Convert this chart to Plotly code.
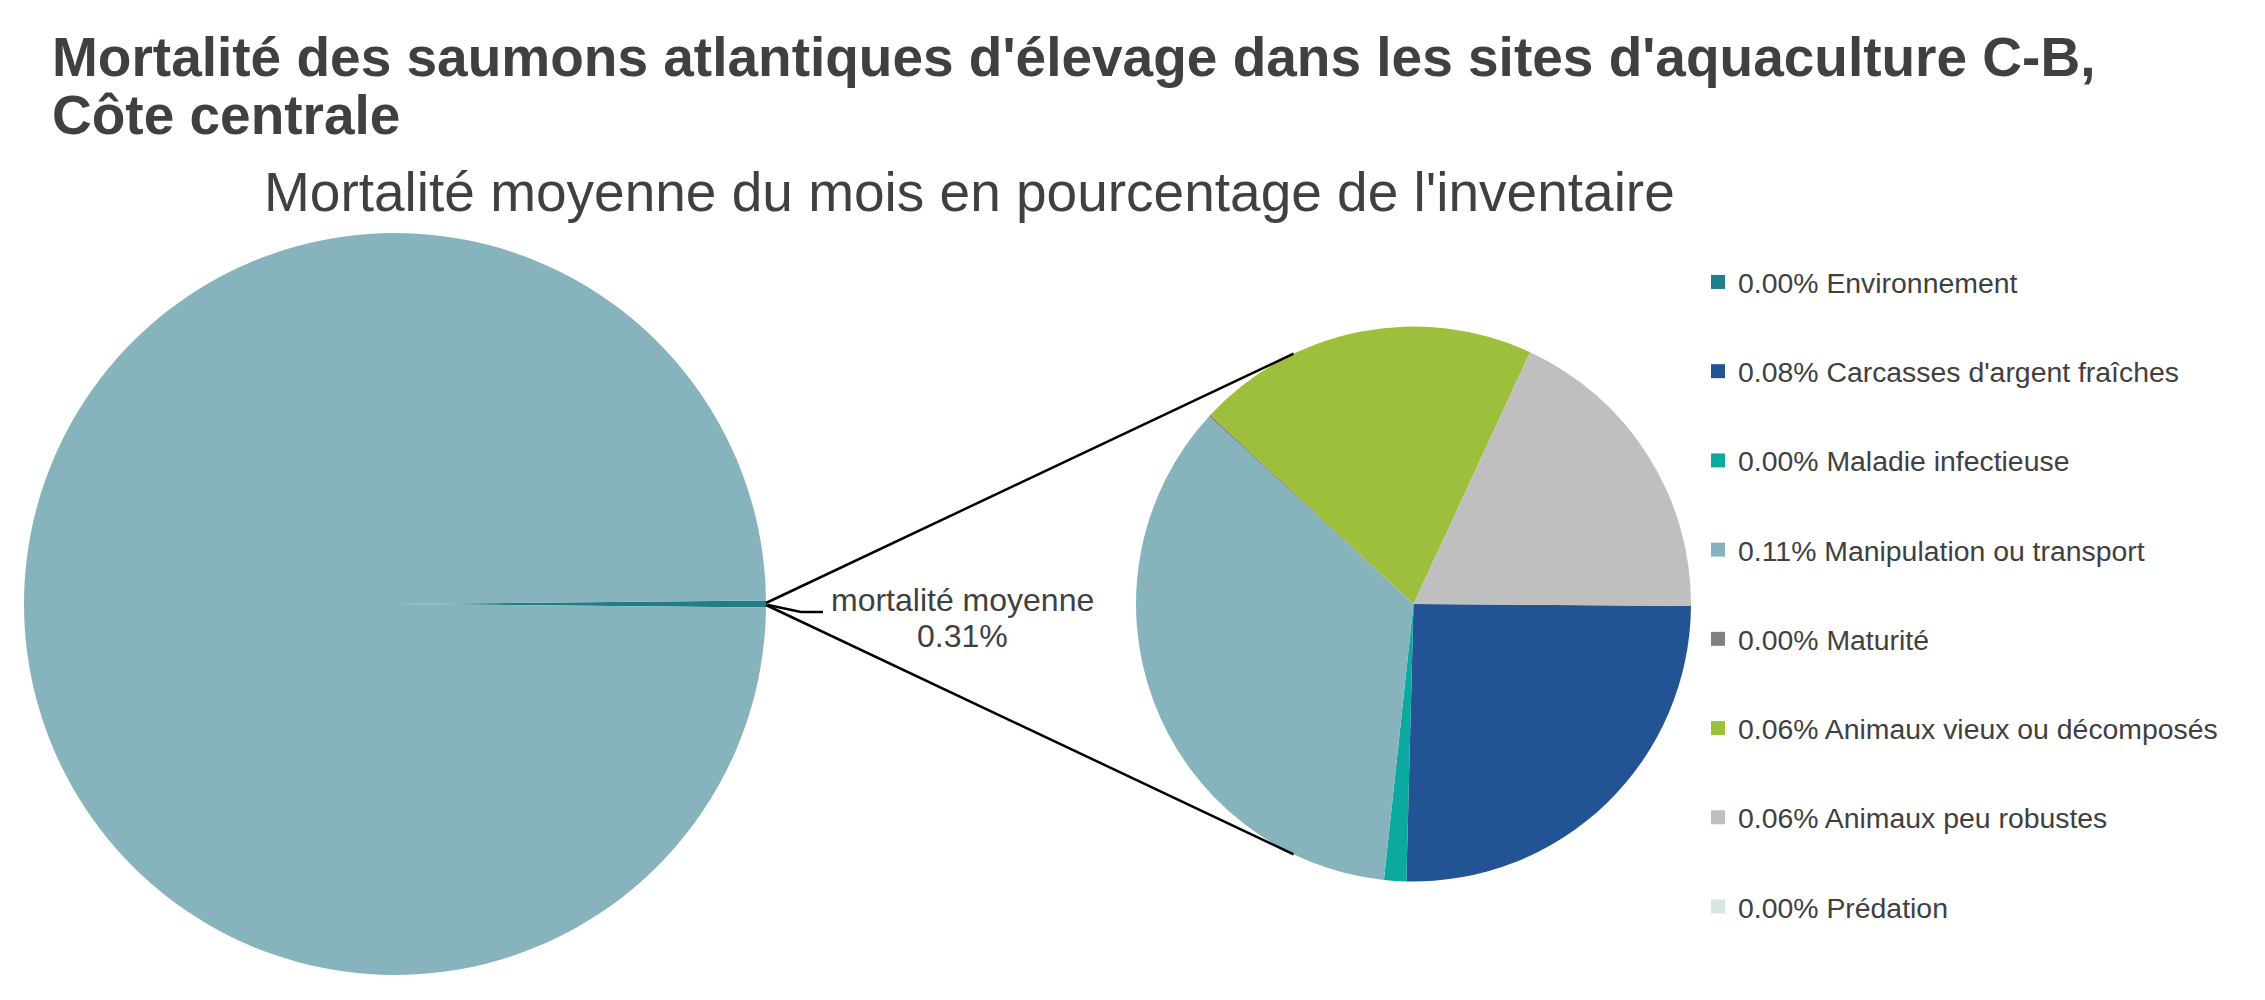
import math
import plotly.graph_objects as go

W, H = 2265, 1000

# ---------------- data ----------------
categories = [
    "Environnement",
    "Carcasses d'argent fraîches",
    "Maladie infectieuse",
    "Manipulation ou transport",
    "Maturité",
    "Animaux vieux ou décomposés",
    "Animaux peu robustes",
    "Prédation",
]
values = [0.0, 0.0785, 0.004, 0.109, 0.0003, 0.062, 0.0565, 0.0]  # % of inventory
colors = ["#1F7E88", "#225495", "#0BA9A0", "#87B4BC", "#808080", "#9DBF3C", "#BFBFBF", "#D5E6E5"]

total = sum(values)
main_labels = ["mortalité moyenne", "inventaire"]
main_values = [total, 100 - total]
main_colors = ["#1F7E88", "#87B4BC"]

title_lines = ["Mortalité des saumons atlantiques d'élevage dans les sites d'aquaculture C-B,",
               "Côte centrale"]
subtitle = "Mortalité moyenne du mois en pourcentage de l'inventaire"
other_label = "mortalité moyenne"

# ---------------- geometry (pixels) ----------------
BIG_CX, BIG_CY, BIG_R = 395, 604, 371
SM_CX, SM_CY, SM_R = 1413.5, 604, 277.5
TXT = "#404040"
FONT = "Liberation Sans, Arial, sans-serif"


def px(x):
    return x / W


def py(y):
    return 1 - y / H


def dom(cx, cy, r):
    return dict(x=[px(cx - r), px(cx + r)], y=[py(cy + r), py(cy - r)])


fig = go.Figure()

fig.add_trace(go.Pie(
    labels=main_labels, values=main_values, sort=False, direction="clockwise",
    rotation=90 - (total / 100) * 360 / 2, textinfo="none",
    marker=dict(colors=main_colors, line=dict(width=0)),
    domain=dom(BIG_CX, BIG_CY, BIG_R), showlegend=False,
    hovertemplate="%{label}: %{value:.2f}%<extra></extra>",
))

fig.add_trace(go.Pie(
    labels=categories, values=values, sort=False, direction="clockwise",
    rotation=90.4, textinfo="none",
    marker=dict(colors=colors, line=dict(width=0)),
    domain=dom(SM_CX, SM_CY, SM_R), showlegend=False,
    hovertemplate="%{label}: %{value:.2f}%<extra></extra>",
))

# legend entries
for name, v, c in zip(categories, values, colors):
    fig.add_trace(go.Scatter(
        x=[None], y=[None], mode="markers",
        marker=dict(symbol="square", size=14, color=c),
        name=f"{v:.2f}% {name}", legendgroup=name, showlegend=True,
    ))

# connector lines from the "other" slice to the secondary pie
ang = math.radians(64.4)
x0, y0 = BIG_CX + BIG_R, BIG_CY
x_top, y_top = SM_CX - SM_R * math.cos(ang), SM_CY - SM_R * math.sin(ang)
x_bot, y_bot = SM_CX - SM_R * math.cos(ang), SM_CY + SM_R * math.sin(ang)
shapes = [
    dict(type="line", xref="paper", yref="paper", x0=px(x0), y0=py(y0 - 1), x1=px(x_top), y1=py(y_top),
         line=dict(color="black", width=2.5)),
    dict(type="line", xref="paper", yref="paper", x0=px(x0), y0=py(y0 + 1), x1=px(x_bot), y1=py(y_bot),
         line=dict(color="black", width=2.5)),
    dict(type="path", xref="paper", yref="paper",
         path=f"M {px(x0 + 2)} {py(y0 + 1)} L {px(x0 + 35)} {py(y0 + 8)} L {px(x0 + 57)} {py(y0 + 8)}",
         line=dict(color="black", width=2.5)),
]

annotations = [
    dict(text=title_lines[0], x=px(50), y=py(57.5), xref="paper", yref="paper", xanchor="left",
         yanchor="middle", showarrow=False, font=dict(family=FONT, size=55, color=TXT, weight="bold")),
    dict(text=title_lines[1], x=px(50), y=py(114.5), xref="paper", yref="paper", xanchor="left",
         yanchor="middle", showarrow=False, font=dict(family=FONT, size=55, color=TXT, weight="bold")),
    dict(text=subtitle, x=px(262), y=py(191.5), xref="paper", yref="paper", xanchor="left",
         yanchor="middle", showarrow=False, font=dict(family=FONT, size=55, color=TXT)),
    dict(text=other_label, x=px(962), y=py(600), xref="paper", yref="paper", xanchor="center",
         yanchor="middle", showarrow=False, font=dict(family=FONT, size=32, color=TXT)),
    dict(text=f"{total:.2f}%", x=px(962), y=py(636), xref="paper", yref="paper", xanchor="center",
         yanchor="middle", showarrow=False, font=dict(family=FONT, size=32, color=TXT)),
]

fig.update_layout(
    width=W, height=H,
    margin=dict(l=0, r=0, t=0, b=0),
    paper_bgcolor="white", plot_bgcolor="white",
    xaxis=dict(visible=False), yaxis=dict(visible=False),
    legend=dict(x=px(1698), y=py(257), xanchor="left", yanchor="top",
                font=dict(family=FONT, size=28.4, color=TXT), tracegroupgap=49.3,
                bgcolor="rgba(0,0,0,0)"),
    shapes=shapes, annotations=annotations,
    hovermode="closest",
)

fig.write_html("out.html", config={"displayModeBar": False},
               post_script="document.body.style.margin='0';")
